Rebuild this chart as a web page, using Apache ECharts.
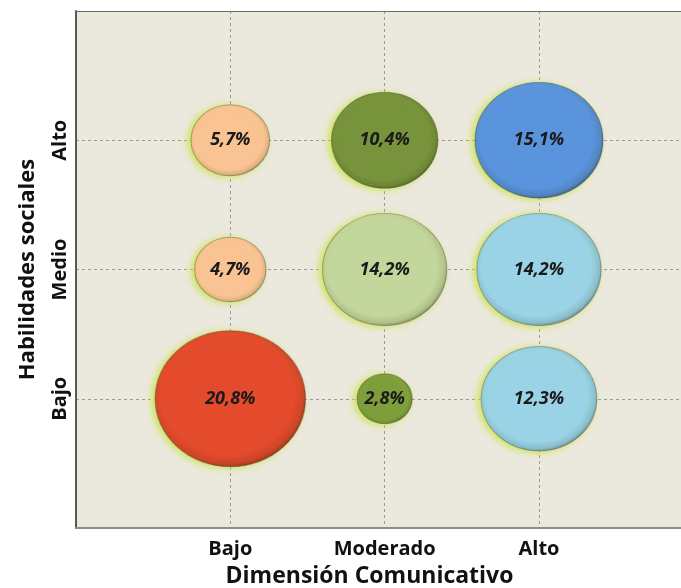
<!DOCTYPE html>
<html>
<head>
<meta charset="utf-8">
<script src="https://cdn.jsdelivr.net/npm/echarts@6/dist/echarts.min.js"></script>
<style>
html,body{margin:0;padding:0;background:#ffffff;}
#chart{width:681px;height:588px;}
</style>
</head>
<body>
<div id="chart"></div>
<script>
// Categories
const xCategories = ['Bajo', 'Moderado', 'Alto'];      // Dimensión Comunicativo
const yCategories = ['Bajo', 'Medio', 'Alto'];         // Habilidades sociales

// Percentages per row of Habilidades sociales (columns follow xCategories)
const rowBajo  = [20.8, 2.8, 12.3];
const rowMedio = [4.7, 14.2, 14.2];
const rowAlto  = [5.7, 10.4, 15.1];

// Colours (style only)
const colBajo  = ['#e44b2c', '#7e9e3c', '#9ad3e6'];
const colMedio = ['#fac393', '#c3d69b', '#9ad3e6'];
const colAlto  = ['#fac393', '#77933c', '#5a94dc'];

function shade(hex, f) {
  const n = parseInt(hex.slice(1), 16);
  let r = (n >> 16) & 255, g = (n >> 8) & 255, b = n & 255;
  r = Math.round(r * f); g = Math.round(g * f); b = Math.round(b * f);
  return 'rgb(' + r + ',' + g + ',' + b + ')';
}

const rows = [rowBajo, rowMedio, rowAlto];
const cols = [colBajo, colMedio, colAlto];
const data = [];
rows.forEach((row, yi) => {
  row.forEach((v, xi) => {
    const c = cols[yi][xi];
    data.push({
      value: [xi + 1, yi + 1, v],
      itemStyle: {
        color: {
          type: 'radial', x: 0.48, y: 0.47, r: 0.55,
          colorStops: [
            { offset: 0, color: c },
            { offset: 0.8, color: c },
            { offset: 0.91, color: shade(c, 0.9) },
            { offset: 1, color: shade(c, 0.55) }
          ]
        }
      }
    });
  });
});

const labelFont = '"Open Sans", "DejaVu Sans", sans-serif';
const chart = echarts.init(document.getElementById('chart'));
chart.setOption({
  backgroundColor: '#ffffff',
  animation: false,
  grid: {
    left: 76, top: 11, bottom: 60, right: 0,
    outerBoundsMode: 'none', containLabel: false,
    show: true, backgroundColor: '#ebe8dd', borderWidth: 0
  },
  xAxis: [{
    type: 'value', min: 0, max: 3.92, interval: 1,
    name: 'Dimensión Comunicativo', nameLocation: 'middle', nameGap: 37,
    nameTextStyle: { fontFamily: labelFont, fontWeight: 'bold', fontSize: 23, color: '#111', padding: [0, 18, 0, 0] },
    axisLine: { show: true, lineStyle: { color: '#8c8c8c', width: 2 } },
    axisTick: { show: false },
    axisLabel: {
      margin: 11, fontFamily: labelFont, fontWeight: 'bold', fontSize: 20, color: '#111',
      showMaxLabel: false,
      formatter: v => (v >= 1 && v <= xCategories.length) ? xCategories[v - 1] : ''
    },
    splitLine: { show: true, lineStyle: { color: '#9a9a9a', type: [3, 3], width: 1 } }
  }, {
    type: 'value', position: 'top', min: 0, max: 3.92,
    axisLine: { show: true, lineStyle: { color: '#6e6e6e', width: 1 } },
    axisTick: { show: false }, axisLabel: { show: false }, splitLine: { show: false }
  }],
  yAxis: {
    type: 'value', min: 0, max: 4, interval: 1,
    name: 'Habilidades sociales', nameLocation: 'middle', nameGap: 37, nameRotate: 90,
    nameTextStyle: { fontFamily: labelFont, fontWeight: 'bold', fontSize: 22, color: '#111' },
    axisLine: { show: true, lineStyle: { color: '#595959', width: 2 } },
    axisTick: { show: false },
    axisLabel: {
      rotate: 90, margin: 6, fontFamily: labelFont, fontWeight: 'bold', fontSize: 20, color: '#111',
      formatter: v => (v >= 1 && v <= yCategories.length) ? yCategories[v - 1] : ''
    },
    splitLine: { show: true, lineStyle: { color: '#9a9a9a', type: [3, 3], width: 1 } }
  },
  series: [{
    type: 'scatter',
    xAxisIndex: 0,
    data: data,
    symbol: 'circle',
    symbolSize: val => [33 * Math.sqrt(val[2]), 29.8 * Math.sqrt(val[2])],
    itemStyle: {
      opacity: 1,
      shadowColor: 'rgba(200,230,60,0.9)', shadowBlur: 7, shadowOffsetX: -3, shadowOffsetY: 1,
      borderColor: 'rgba(40,40,40,0.3)', borderWidth: 1
    },
    label: {
      show: true, position: 'inside',
      fontFamily: labelFont, fontWeight: 'bold', fontStyle: 'italic', fontSize: 18, color: '#1a1a1a',
      formatter: p => p.value[2].toFixed(1).replace('.', ',') + '%'
    }
  }]
});
</script>
</body>
</html>
